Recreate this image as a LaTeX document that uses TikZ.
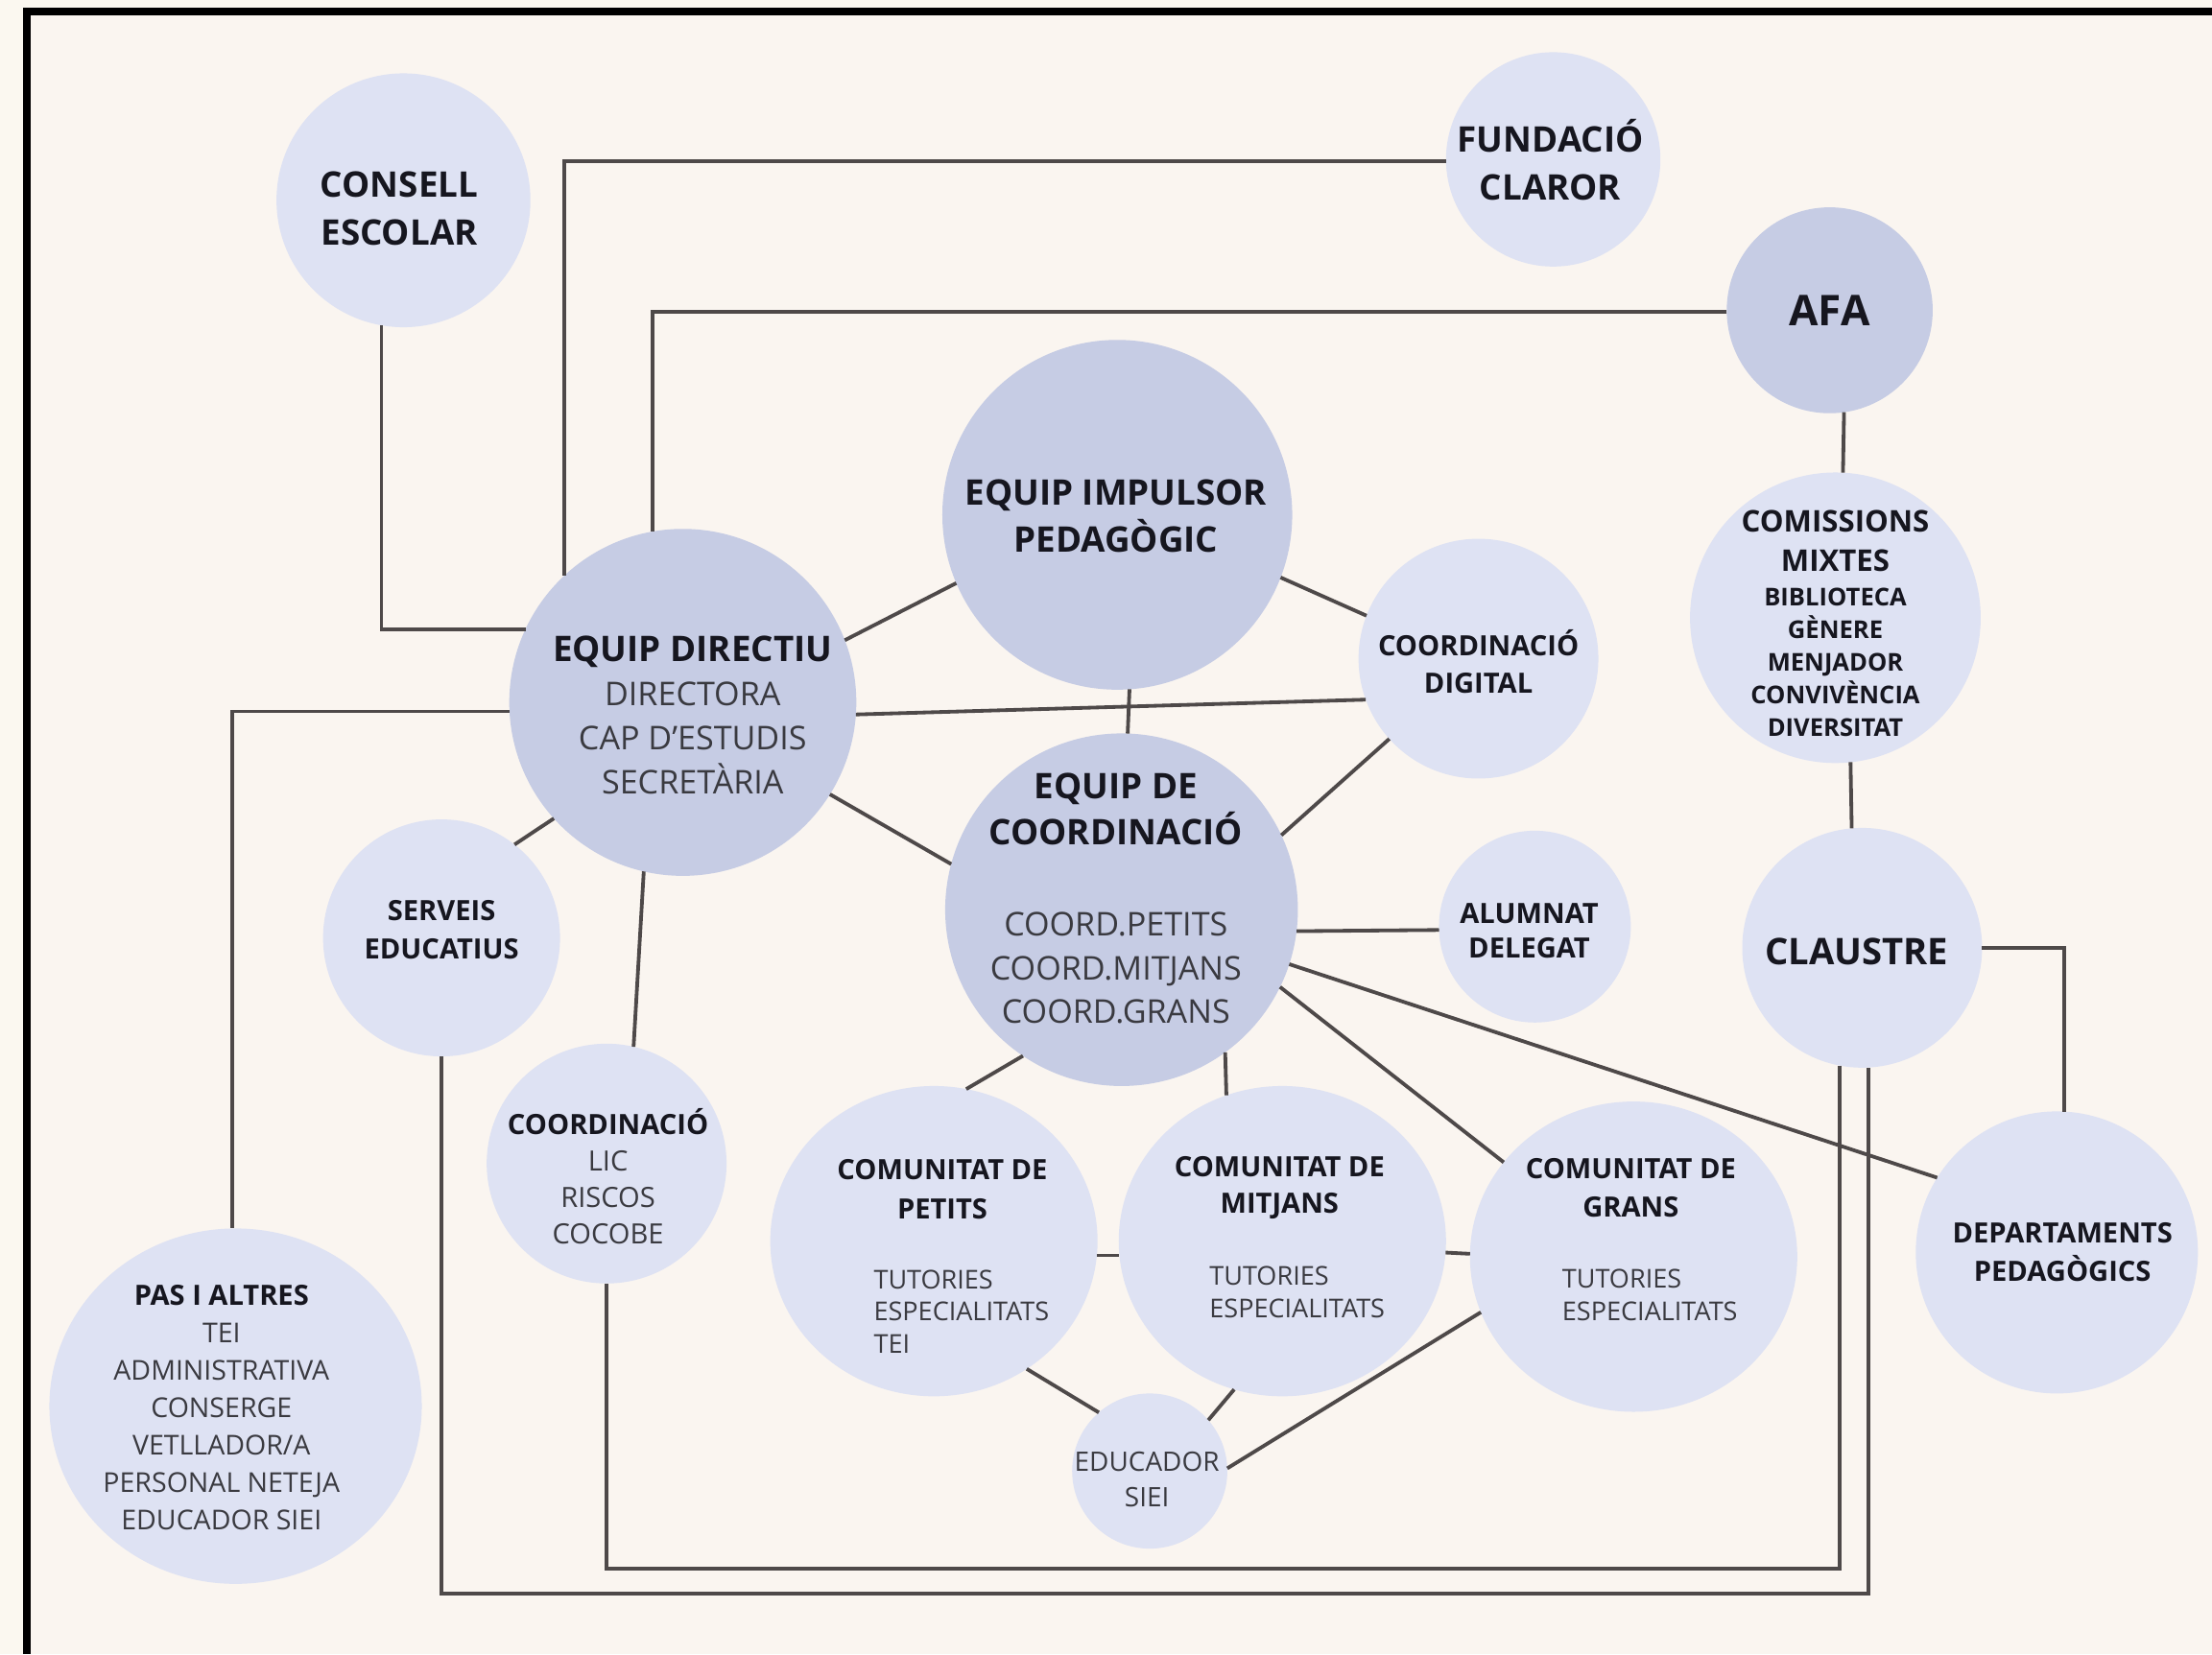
\documentclass[tikz,border=0pt]{standalone}
\usepackage{fontspec}
\setmainfont{Open Sans}
\usetikzlibrary{shapes.geometric}
\definecolor{fonsext}{HTML}{FBF8F0}
\definecolor{fons}{HTML}{FAF5F0}
\definecolor{bolaclar}{HTML}{DEE2F3}
\definecolor{bolafosc}{HTML}{C6CCE4}
\definecolor{linia}{HTML}{4E4949}
\definecolor{tinta}{HTML}{16161F}
\definecolor{gris}{HTML}{3A3A40}
\newcommand{\titolgran}[1]{{\color{tinta}\bfseries\fontsize{12.5}{17}\selectfont #1}}
\newcommand{\titolpetit}[1]{{\color{tinta}\bfseries\fontsize{9.9}{13}\selectfont #1}}

\begin{document}
    \begin{tikzpicture}[x=0.5pt, y=-0.5pt,
      bola/.style={circle, fill=bolaclar, inner sep=0pt, outer sep=0pt},
      bolae/.style={ellipse, fill=bolaclar, inner sep=0pt, outer sep=0pt},
      fosca/.style={fill=bolafosc},
      enllac/.style={draw=linia, line width=1.3pt},
      tgran/.style={align=center, inner sep=0pt, text=tinta, font=\bfseries\fontsize{12.5}{17}\selectfont},
      tpetit/.style={align=center, inner sep=0pt, text=tinta, font=\bfseries\fontsize{9.9}{13.5}\selectfont},
      tlleu/.style={align=center, inner sep=0pt, text=gris},
      tllista/.style={align=left, inner sep=0pt, text=gris, anchor=west, font=\fontsize{9.2}{11.5}\selectfont}]

      % Fondo y marco
      \useasboundingbox (0,0) rectangle (1568,1173);
      \fill[fonsext] (0,0) rectangle (1568,1173);
      \fill[fons] (21.8,10.9) rectangle (1568,1173);
      \fill[black] (16.3,5.4) rectangle (1568,10.9);
      \fill[black] (16.3,5.4) rectangle (21.8,1173);

      % Circulos
      \node[bola, minimum size=90pt] (consell) at (286,142) {};
      \node[bola, minimum size=76pt] (fundacio) at (1101,113) {};
      \node[bola, fosca, minimum size=73pt] (afa) at (1297,220) {};
      \node[bola, fosca, minimum size=124pt] (impulsor) at (792,365) {};
      \node[bola, fosca, minimum size=123pt] (directiu) at (484,498) {};
      \node[bola, minimum size=85pt] (digital) at (1048,467) {};
      \node[bola, fosca, minimum size=125pt] (coordinacio) at (795,645) {};
      \node[bola, minimum size=103pt] (comissions) at (1301,438) {};
      \node[bola, minimum size=85pt] (claustre) at (1320,672) {};
      \node[bola, minimum size=68pt] (alumnat) at (1088,657) {};
      \node[bola, minimum size=84pt] (serveis) at (313,665) {};
      \node[bola, minimum size=85pt] (coordlic) at (430,825) {};
      \node[bolae, minimum width=132pt, minimum height=126pt] (pas) at (167,997) {};
      \node[bolae, minimum width=116pt, minimum height=110pt] (petits) at (662,880) {};
      \node[bolae, minimum width=116pt, minimum height=110pt] (mitjans) at (909,880) {};
      \node[bolae, minimum width=116pt, minimum height=110pt] (grans) at (1158,891) {};
      \node[bola, minimum size=55pt] (educador) at (815,1043) {};
      \node[bola, minimum size=100pt] (departaments) at (1458,888) {};

      % Conexiones con recodo
      \draw[enllac] (consell.260) |- (directiu.155);
      \draw[enllac] (fundacio.181) -| (directiu.133);
      \draw[enllac] (afa.181) -| (directiu.100);
      \draw[enllac] (directiu.183) -| (pas.91);
      \draw[enllac] (claustre.0) -| (departaments.87);
      \draw[enllac] (claustre.259) -- ++(0,357) -| (coordlic.270);
      \draw[enllac] (serveis.270) -- ++(0,381) -| (claustre.273);

      % Conexiones rectas
      \draw[enllac] (afa.278) -- (comissions.87);
      \draw[enllac] (comissions.276) -- (claustre.95);
      \draw[enllac] (directiu.21) -- (impulsor.203);
      \draw[enllac] (directiu.356) -- (digital.200);
      \draw[enllac] (directiu.222) -- (serveis.52);
      \draw[enllac] (directiu.257) -- (coordlic.77);
      \draw[enllac] (directiu.328) -- (coordinacio.165);
      \draw[enllac] (impulsor.274) -- (coordinacio.88);
      \draw[enllac] (impulsor.339) -- (digital.159);
      \draw[enllac] (digital.222) -- (coordinacio.25);
      \draw[enllac] (coordinacio.353) -- (alumnat.182);
      \draw[enllac] (coordinacio.236) -- (petits.78);
      \draw[enllac] (coordinacio.306) -- (mitjans.111);
      \draw[enllac] (coordinacio.334) -- (grans.144);
      \draw[enllac] (coordinacio.342) -- (departaments.148);
      \draw[enllac] (petits.355) -- (mitjans.185);
      \draw[enllac] (mitjans.356) -- (grans.179);
      \draw[enllac] (petits.306) -- (educador.131);
      \draw[enllac] (mitjans.252) -- (educador.41);
      \draw[enllac] (grans.200) -- (educador.2);

      % Textos
      \node[tgran] (consell-t) at (283,148) {CONSELL\\ESCOLAR};
      \node[tgran] (fundacio-t) at (1099,113) {FUNDACIÓ\\CLAROR};
      \node[tgran, font=\bfseries\fontsize{15}{18}\selectfont] (afa-t) at (1297,220) {AFA};
      \node[tgran, font=\bfseries\fontsize{12.5}{16.5}\selectfont] (impulsor-t) at (791,366) {EQUIP IMPULSOR\\PEDAGÒGIC};
      \node[tlleu, font=\fontsize{11.6}{15.75}\selectfont] (directiu-t) at (491,507)
        {\titolgran{EQUIP DIRECTIU}\\DIRECTORA\\CAP D’ESTUDIS\\SECRETÀRIA};
      \node[tpetit] (digital-t) at (1048,469) {COORDINACIÓ\\DIGITAL};
      \node[tlleu, font=\fontsize{11.6}{15.5}\selectfont] (coordinacio-t) at (791,637)
        {\titolgran{EQUIP DE}\\[1pt]\titolgran{COORDINACIÓ}\\[16.7pt]COORD.PETITS\\COORD.MITJANS\\COORD.GRANS};
      \node[tpetit, font=\bfseries\fontsize{8.7}{11.5}\selectfont] (comissions-t) at (1301,442)
        {{\fontsize{10.6}{14}\selectfont COMISSIONS}\\[2.5pt]{\fontsize{10.6}{14}\selectfont MIXTES}\\[0.8pt]BIBLIOTECA\\GÈNERE\\MENJADOR\\CONVIVÈNCIA\\DIVERSITAT};
      \node[tgran, font=\bfseries\fontsize{13}{16}\selectfont] (claustre-t) at (1316,675) {CLAUSTRE};
      \node[tpetit, font=\bfseries\fontsize{9.9}{12.5}\selectfont] (alumnat-t) at (1084,660) {ALUMNAT\\DELEGAT};
      \node[tpetit] (serveis-t) at (313,659) {SERVEIS\\EDUCATIUS};
      \node[tlleu, font=\fontsize{9.9}{13}\selectfont] (coordlic-t) at (431,834)
        {\titolpetit{COORDINACIÓ}\\LIC\\RISCOS\\COCOBE};
      \node[tlleu, font=\fontsize{9.7}{13.3}\selectfont] (pas-t) at (157,998)
        {\titolpetit{PAS I ALTRES}\\TEI\\ADMINISTRATIVA\\CONSERGE\\VETLLADOR/A\\PERSONAL NETEJA\\EDUCADOR SIEI};
      \node[tpetit, font=\bfseries\fontsize{9.9}{14}\selectfont] (petits-t) at (668,843) {COMUNITAT DE\\PETITS};
      \node[tllista] (petits-l) at (619,930) {TUTORIES\\ESPECIALITATS\\TEI};
      \node[tpetit, font=\bfseries\fontsize{9.9}{13}\selectfont] (mitjans-t) at (907,842) {COMUNITAT DE\\MITJANS};
      \node[tllista] (mitjans-l) at (857,916) {TUTORIES\\ESPECIALITATS};
      \node[tpetit, font=\bfseries\fontsize{9.9}{13.5}\selectfont] (grans-t) at (1156,842) {COMUNITAT DE\\GRANS};
      \node[tllista] (grans-l) at (1107,918) {TUTORIES\\ESPECIALITATS};
      \node[tlleu, font=\fontsize{9.5}{12.5}\selectfont] (educador-t) at (813,1049) {EDUCADOR\\SIEI};
      \node[tpetit] (departaments-t) at (1462,888) {DEPARTAMENTS\\PEDAGÒGICS};
    \end{tikzpicture}
\end{document}
